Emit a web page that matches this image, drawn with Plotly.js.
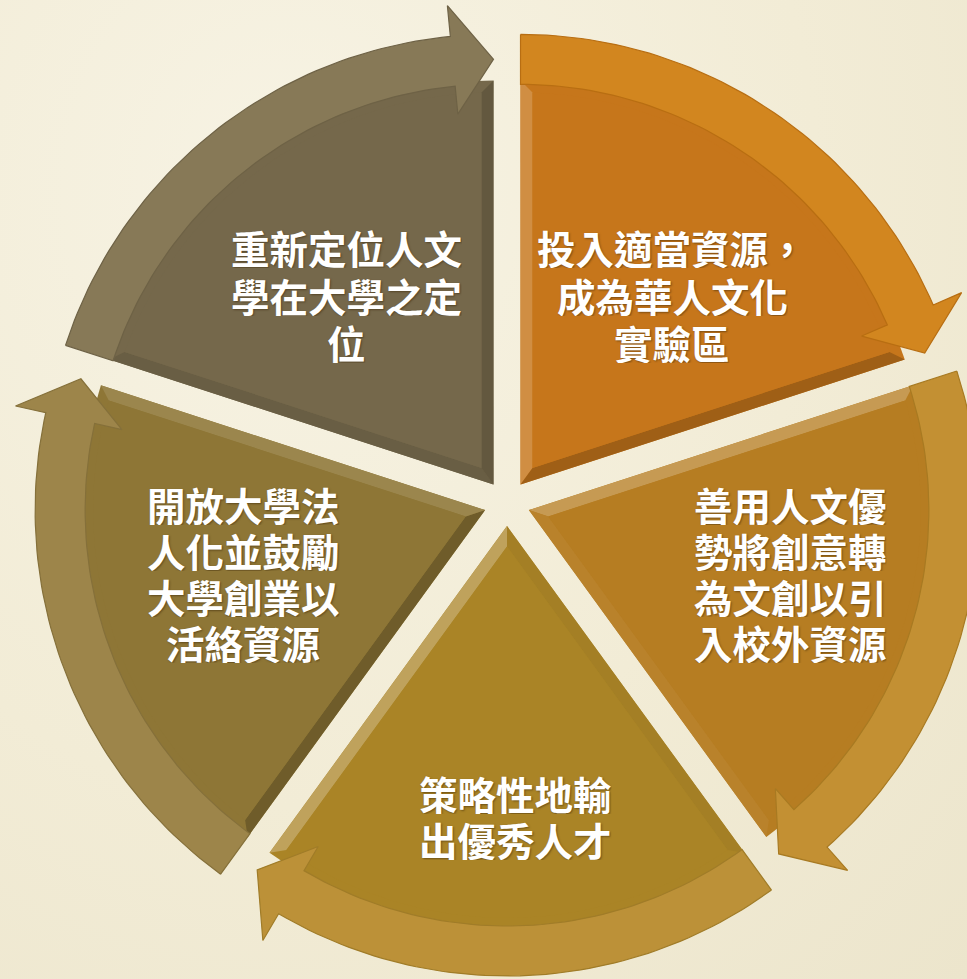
<!DOCTYPE html>
<html>
<head>
<meta charset="utf-8">
<script src="https://cdn.plot.ly/plotly-3.0.1.min.js"></script>
<style>
html,body{margin:0;padding:0;}
body{background:radial-gradient(ellipse at 30% 20%, #F7F3E4 0%, #F2ECD6 55%, #ECE5CC 100%);}
#chart{width:967px;height:979px;}
</style>
</head>
<body>
<div id="chart"></div>
<script>
// ---- data ----
const categories = [
  '投入適當資源，<br>成為華人文化<br>實驗區',
  '善用人文優<br>勢將創意轉<br>為文創以引<br>入校外資源',
  '策略性地輸<br>出優秀人才',
  '開放大學法<br>人化並鼓勵<br>大學創業以<br>活絡資源',
  '重新定位人文<br>學在大學之定<br>位'
];
const values = [1, 1, 1, 1, 1];

// ---- styles ----
const bodyColors = ['#C6761B', '#B67D22', '#AA8426', '#8E7636', '#75684B'];
const bandColors = ['#D2861F', '#C39033', '#BC9138', '#9D854A', '#877957'];
const bandLines  = ['#B86E12', '#A87A22', '#A07C28', '#85703A', '#6E6246'];
// label anchor: [x centre, y of first line centre, line spacing]
const labelPos = [[672, 247, 47.5], [790, 504, 46], [515, 793, 46], [243, 504, 46], [346, 247, 47.5]];

const W = 967, H = 979;
const CENTER = [507, 503];
const EXPLODE = 23;
const R_BODY = 404, R_IN = 400, R_OUT = 450, WING_IN = 28, WING_OUT = 31, HEAD_DEG = 5.5;
const BEVEL = 12;

function pt(a, r, th) {
  const t = th * Math.PI / 180;
  return [a[0] + r * Math.sin(t), a[1] - r * Math.cos(t)];
}
function arc(a, r, t0, t1, n) {
  const out = [];
  for (let i = 0; i <= n; i++) out.push(pt(a, r, t0 + (t1 - t0) * i / n));
  return out;
}
function hexToRgb(h) { return [1, 3, 5].map(i => parseInt(h.substr(i, 2), 16)); }
function shade(hex, k) {
  const c = hexToRgb(hex).map(v => k > 0 ? v + (255 - v) * k : v * (1 + k));
  return 'rgb(' + c.map(v => Math.round(v)).join(',') + ')';
}
function poly(points, fill, line, lw) {
  const xs = points.map(p => p[0]), ys = points.map(p => p[1]);
  xs.push(xs[0]); ys.push(ys[0]);
  return {
    type: 'scatter', mode: 'lines', x: xs, y: ys, fill: 'toself',
    fillcolor: fill, line: {color: line || fill, width: lw === undefined ? 0 : lw},
    hoverinfo: 'skip', showlegend: false
  };
}

const total = values.reduce((s, v) => s + v, 0);
const bodies = [], bands = [];
const light = [-Math.SQRT1_2, -Math.SQRT1_2];
let acc = 0;
const annotations = [];
values.forEach((v, i) => {
  const ts = acc / total * 360;
  acc += v;
  const te = acc / total * 360;
  const mid = (ts + te) / 2;
  const half = (te - ts) / 2 * Math.PI / 180;
  const apex = pt(CENTER, EXPLODE, mid);

  bodies.push(poly([apex].concat(arc(apex, R_BODY, ts, te, 60)), bodyColors[i]));
  const apexIn = pt(apex, BEVEL / Math.sin(half), mid);
  const rIn = R_BODY - BEVEL;
  const d = Math.asin(BEVEL / rIn) * 180 / Math.PI;
  const sOut = pt(apex, R_BODY, ts), sIn = pt(apex, rIn, ts + d);
  const eOut = pt(apex, R_BODY, te), eIn = pt(apex, rIn, te - d);
  [[ts - 90, [apex, sOut, sIn, apexIn]], [te + 90, [apex, apexIn, eIn, eOut]]].forEach(([nAng, pts]) => {
    const n = pt([0, 0], 1, nAng);
    const dot = n[0] * light[0] + n[1] * light[1];
    const col = dot >= 0 ? shade(bodyColors[i], 0.25 * dot) : shade(bodyColors[i], 0.22 * dot);
    bodies.push(poly(pts, col));
  });
  bodies.push(poly([apexIn].concat(arc(apex, rIn, ts + d, te - d, 60)), bodyColors[i]));

  const tb = te - HEAD_DEG;
  const band = arc(apex, R_OUT, ts, tb, 60)
    .concat([pt(apex, R_OUT + WING_OUT, tb), pt(apex, (R_IN + R_OUT) / 2, te), pt(apex, R_IN - WING_IN, tb)])
    .concat(arc(apex, R_IN, tb, ts, 60));
  bands.push(poly(band, bandColors[i], bandLines[i], 1.2));

  const lines = categories[i].split('<br>');
  lines.forEach((ln, k) => {
    annotations.push({
      x: labelPos[i][0], y: labelPos[i][1] + k * labelPos[i][2], xref: 'x', yref: 'y',
      xanchor: 'center', yanchor: 'middle', height: 42, valign: 'middle',
      text: ln, showarrow: false, align: 'center', borderpad: 0,
      font: {family: '"Noto Sans CJK TC", "Noto Sans CJK SC", sans-serif', size: 38.5, color: '#FFFFFF', weight: 700,
             shadow: '1px 1px 2px rgba(60,40,10,0.55)'}
    });
  });
});

const layout = {
  width: W, height: H,
  margin: {l: 0, r: 0, t: 0, b: 0},
  paper_bgcolor: 'rgba(0,0,0,0)', plot_bgcolor: 'rgba(0,0,0,0)',
  xaxis: {range: [0, W], visible: false, fixedrange: true},
  yaxis: {range: [H, 0], visible: false, fixedrange: true},
  showlegend: false, hovermode: false,
  annotations: annotations
};
Plotly.newPlot('chart', bodies.concat(bands), layout, {displayModeBar: false, staticPlot: true});
</script>
</body>
</html>
